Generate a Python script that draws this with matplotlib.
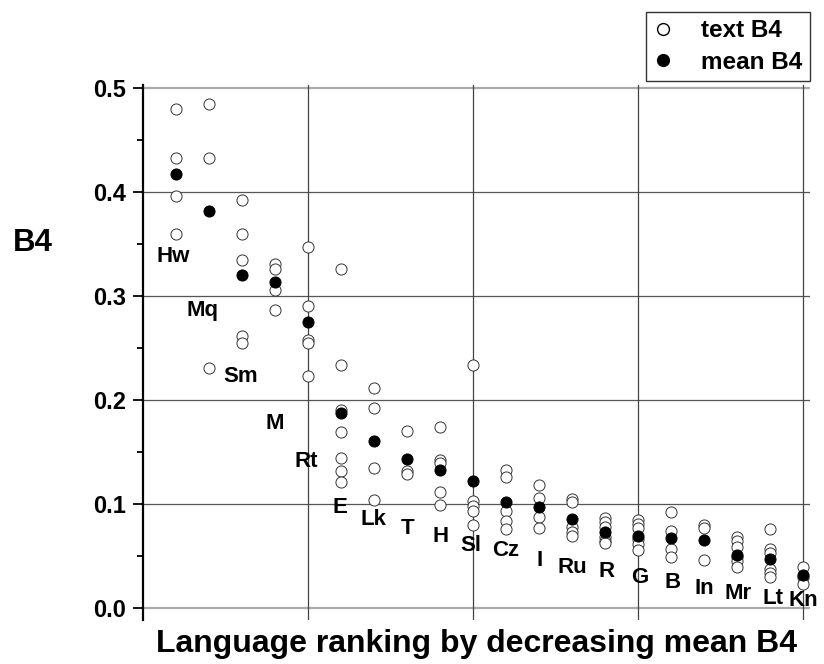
import matplotlib
matplotlib.use("Agg")
import matplotlib.pyplot as plt
from matplotlib.lines import Line2D
from matplotlib.ticker import MultipleLocator

plt.rcParams['font.family'] = ['Liberation Sans', 'DejaVu Sans']
plt.rcParams['font.weight'] = 'bold'

languages = ["Hw", "Mq", "Sm", "M", "Rt", "E", "Lk", "T", "H", "Sl",
             "Cz", "I", "Ru", "R", "G", "B", "In", "Mr", "Lt", "Kn"]

text_b4 = [
    [0.480, 0.433, 0.396, 0.360],
    [0.485, 0.433, 0.231],
    [0.392, 0.360, 0.335, 0.262, 0.255],
    [0.331, 0.326, 0.306, 0.287],
    [0.347, 0.290, 0.258, 0.255, 0.223],
    [0.326, 0.234, 0.190, 0.169, 0.144, 0.132, 0.121],
    [0.212, 0.192, 0.135, 0.104],
    [0.170, 0.132, 0.129],
    [0.174, 0.142, 0.139, 0.112, 0.099],
    [0.234, 0.103, 0.098, 0.093, 0.080],
    [0.133, 0.126, 0.093, 0.084, 0.076],
    [0.118, 0.106, 0.088, 0.077],
    [0.105, 0.102, 0.078, 0.073, 0.069],
    [0.087, 0.083, 0.078, 0.068, 0.064, 0.063],
    [0.085, 0.081, 0.077, 0.066, 0.062, 0.056],
    [0.092, 0.074, 0.057, 0.049],
    [0.080, 0.077, 0.046],
    [0.068, 0.064, 0.059, 0.049, 0.045, 0.039],
    [0.076, 0.057, 0.053, 0.038, 0.034, 0.030],
    [0.039, 0.030, 0.023],
]

mean_b4 = [0.417, 0.382, 0.320, 0.314, 0.275, 0.188, 0.161, 0.143, 0.133, 0.122,
           0.102, 0.097, 0.086, 0.073, 0.069, 0.067, 0.065, 0.051, 0.047, 0.032]

# label placement (offset in x from rank, y position)
label_dx = [-0.08, -0.21, -0.05, -0.02, -0.05, -0.02, -0.01, 0.0, 0.0, -0.08,
            -0.02, 0.02, 0.0, 0.05, 0.04, 0.04, 0.0, 0.02, 0.07, 0.0]
label_y = [0.338, 0.2865, 0.2225, 0.1775, 0.1405, 0.097, 0.0855, 0.0765, 0.069, 0.0605,
           0.055, 0.046, 0.039, 0.035, 0.029, 0.0245, 0.0185, 0.0135, 0.0095, 0.007]

fig = plt.figure(figsize=(8.24, 6.64), dpi=100)
ax = fig.add_axes([0.1735, 0.0663, 0.8095, 0.8057])

ranks = list(range(1, len(languages) + 1))
for r, vals in zip(ranks, text_b4):
    ax.scatter([r] * len(vals), vals, s=64, facecolors='white', edgecolors='#333333',
               linewidths=0.7, zorder=3)
ax.scatter(ranks, mean_b4, s=64, facecolors='black', edgecolors='black',
           linewidths=0.7, zorder=4)

for r, name, dx, ly in zip(ranks, languages, label_dx, label_y):
    ax.text(r + dx, ly, name, ha='center', va='center', fontsize=16, fontweight='bold',
            zorder=5)

ax.set_xlim(0, 20.2)
ax.set_ylim(-0.0115, 0.503)

# grid
for yv in [0.1, 0.2, 0.3, 0.4]:
    ax.axhline(yv, color='#555555', lw=0.9, zorder=1)
for yv in [0.0, 0.5]:
    ax.axhline(yv, color='#aaaaaa', lw=1.6, zorder=1)
for xv in [5, 10, 15, 20]:
    ax.axvline(xv, color='#444444', lw=0.9, zorder=1)

for s in ['top', 'right', 'bottom']:
    ax.spines[s].set_visible(False)
ax.spines['left'].set_linewidth(1.6)
ax.set_xticks([])
ax.yaxis.set_minor_locator(MultipleLocator(0.05))
ax.set_yticks([0.0, 0.1, 0.2, 0.3, 0.4, 0.5])
ax.set_yticklabels(["0.0", "0.1", "0.2", "0.3", "0.4", "0.5"])
ax.tick_params(axis='y', which='major', length=7, width=1.3, labelsize=17, pad=5)
ax.tick_params(axis='y', which='minor', length=4, width=1.3)
for lbl in ax.get_yticklabels():
    lbl.set_fontweight('bold')

fig.text(0.040, 0.634, "B4", fontsize=22.5, fontweight='bold', ha='center', va='center')
fig.text(0.578, 0.030, "Language ranking by decreasing mean B4", fontsize=23,
         fontweight='bold', ha='center', va='center')

handles = [
    Line2D([], [], marker='o', linestyle='none', markersize=8.5, markerfacecolor='white',
           markeredgecolor='black', markeredgewidth=1.0),
    Line2D([], [], marker='o', linestyle='none', markersize=8.5, markerfacecolor='black',
           markeredgecolor='black'),
]
leg = fig.legend(handles, ["text B4", "mean B4"], loc='upper right',
                 bbox_to_anchor=(0.983, 0.982), frameon=True, fancybox=False,
                 edgecolor='black', prop={'weight': 'bold', 'size': 17.5},
                 handletextpad=1.2, borderpad=0.3, labelspacing=0.35,
                 handlelength=0.8, borderaxespad=0)
leg.get_frame().set_linewidth(1.0)

fig.savefig("out.png", dpi=100)
